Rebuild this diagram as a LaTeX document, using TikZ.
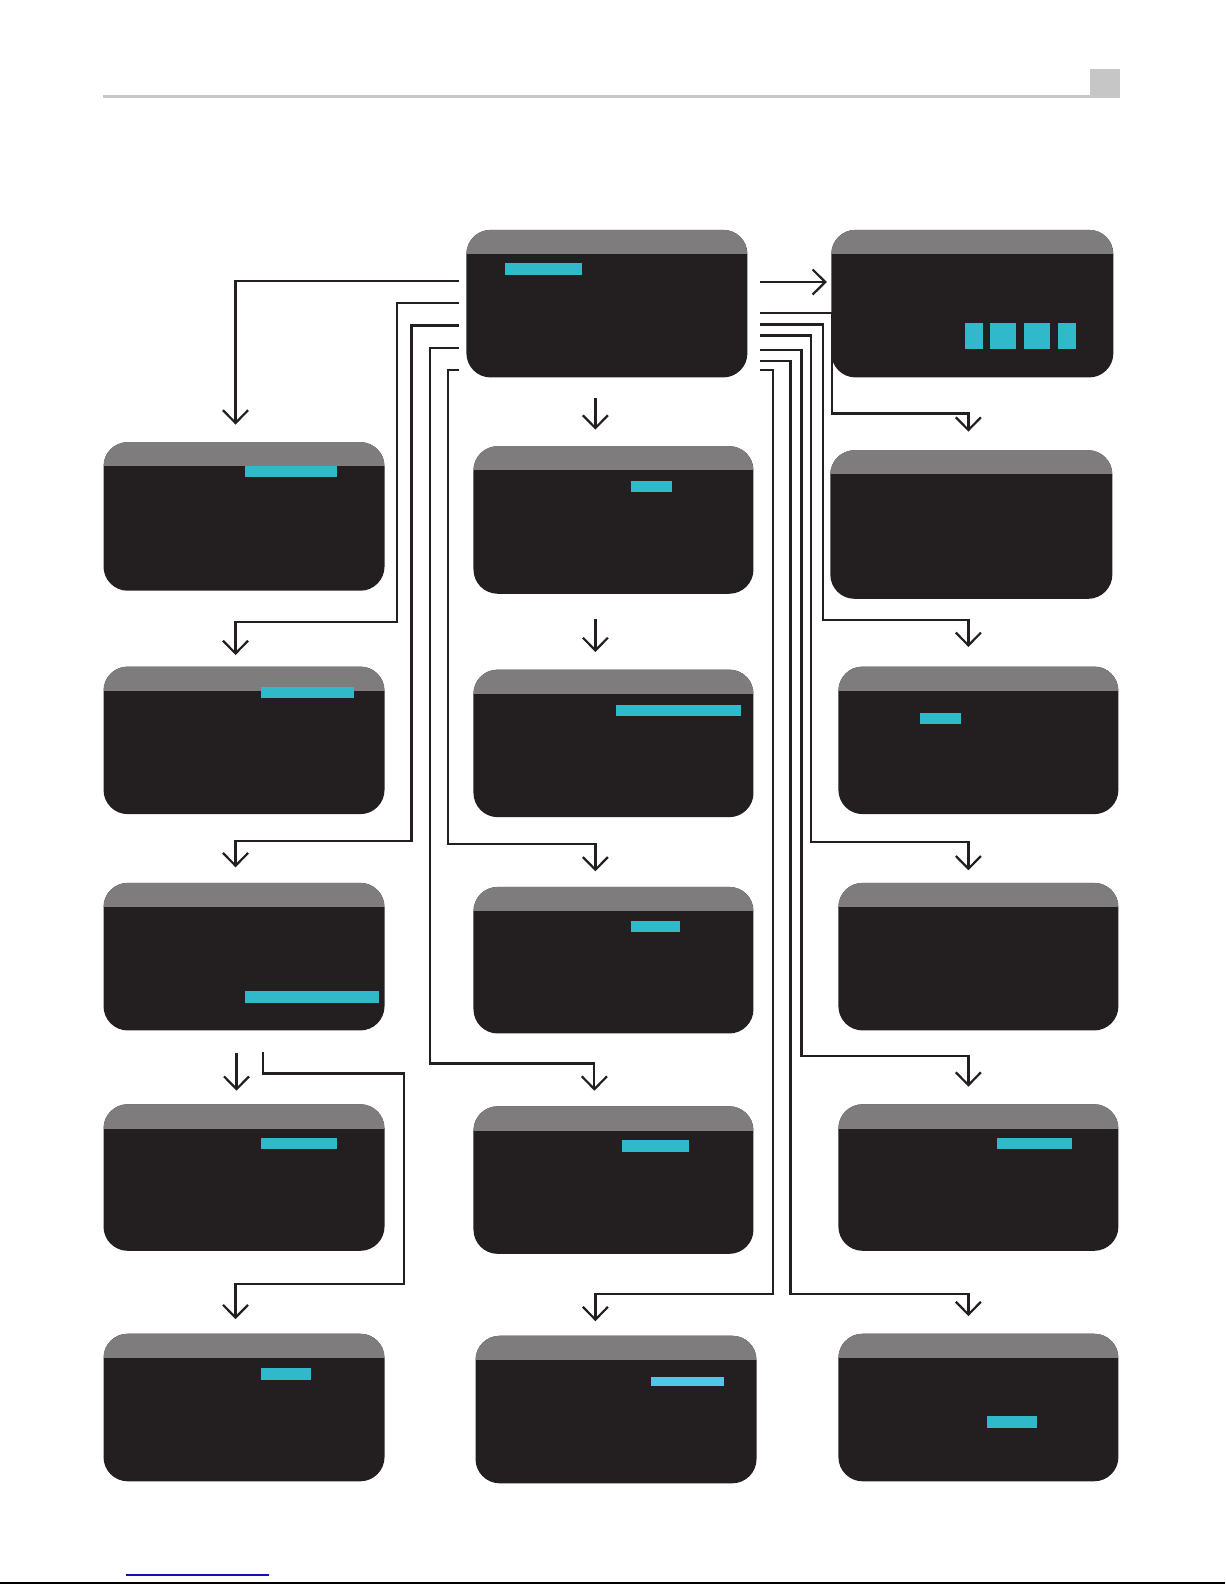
\documentclass[tikz,border=0pt]{standalone}
\usetikzlibrary{arrows.meta}
\definecolor{scrbody}{HTML}{231F20}
\definecolor{scrhead}{HTML}{7E7C7D}
\definecolor{cyanbar}{HTML}{30B9CB}
\definecolor{cyanlight}{HTML}{52C6E6}
\definecolor{rulegray}{HTML}{C6C6C6}
\definecolor{linecol}{HTML}{231F20}
\definecolor{linkblue}{HTML}{1010C0}
\tikzset{
  screen/.style={fill=scrbody, rounded corners=12pt, inner sep=0pt, anchor=north west,
    path picture={\fill[scrhead, sharp corners] (path picture bounding box.north west) rectangle ([yshift=-12pt]path picture bounding box.north east);}},
  conn/.style={line width=1.1pt, draw=linecol},
  arr/.style={conn, -{Straight Barb[length=6.3pt,width=12.4pt]}}
}
\newcommand\scr[5]{\node[screen, minimum width={(#4-#2)*0.5pt}, minimum height={(#5-#3)*0.5pt}] (#1) at (#2,#3) {};}
\begin{document}
\begin{tikzpicture}[x=0.5pt,y=-0.5pt]
\fill[white] (0,0) rectangle (1212,1568);
\useasboundingbox (0,0) rectangle (1212,1568);
% header rule
\fill[rulegray] (102,94) rectangle (1078,97);
\fill[rulegray] (1078,68) rectangle (1108,97);
% screens
\scr{C0}{461}{227}{739}{373}
\scr{R0}{822}{227}{1101}{373}
\scr{L1}{102}{437}{380}{584}
\scr{L2}{102}{659}{380}{805}
\scr{L3}{102}{873}{380}{1019}
\scr{L4}{102}{1092}{380}{1237}
\scr{L5}{102}{1319}{380}{1465}
\scr{M1}{468}{441}{745}{587}
\scr{M2}{468}{662}{745}{808}
\scr{M3}{468}{877}{745}{1022}
\scr{M4}{468}{1094}{745}{1240}
\scr{M5}{470}{1321}{748}{1467}
\scr{R1}{821}{445}{1100}{592}
\scr{R2}{829}{659}{1106}{805}
\scr{R3}{829}{873}{1106}{1019}
\scr{R4}{829}{1092}{1106}{1237}
\scr{R5}{829}{1319}{1106}{1465}
% highlight bars
\fill[cyanbar] (500,260) rectangle (576,272);
\fill[cyanbar] (955,320) rectangle (972,345);
\fill[cyanbar] (979,320) rectangle (1005,345);
\fill[cyanbar] (1013,320) rectangle (1039,345);
\fill[cyanbar] (1047,320) rectangle (1064,345);
\fill[cyanbar] (242,461) rectangle (333,472);
\fill[cyanbar] (258,680) rectangle (350,691);
\fill[cyanbar] (242,980) rectangle (375,992);
\fill[cyanbar] (258,1126) rectangle (333,1137);
\fill[cyanbar] (258,1353) rectangle (308,1365);
\fill[cyanbar] (624,476) rectangle (665,487);
\fill[cyanbar] (609,697) rectangle (733,708);
\fill[cyanbar] (624,911) rectangle (673,922);
\fill[cyanbar] (615,1128) rectangle (682,1140);
\fill[cyanlight] (644,1362) rectangle (716,1371);
\fill[cyanbar] (910,705) rectangle (951,716);
\fill[cyanbar] (986,1126) rectangle (1060,1137);
\fill[cyanbar] (976,1401) rectangle (1026,1413);
% connectors on the left of C0
\draw[arr] ([xshift=-3.5pt]C0.west |- 0,278) -| ([yshift=8.5pt]L1.north -| 233,0);
\draw[arr] ([xshift=-3.5pt]C0.west |- 0,300) -| (393,615) -| ([yshift=5.5pt]L2.north -| 233,0);
\draw[arr] ([xshift=-3.5pt]C0.west |- 0,322) -| (407,832) -| ([yshift=7.5pt]L3.north -| 233,0);
\draw[arr] ([xshift=-3.5pt]C0.west |- 0,344) -| (425,1052) -| ([yshift=7.5pt]M4.north -| 588,0);
\draw[arr] ([xshift=-3.5pt]C0.west |- 0,366) -| (443,835) -| ([yshift=7.5pt]M3.north -| 589,0);
% straight arrows in the middle column
\draw[arr] ([yshift=-10pt]C0.south -| 589,0) -- ([yshift=8pt]M1.north -| 589,0);
\draw[arr] ([yshift=-12.5pt]M1.south -| 589,0) -- ([yshift=8.5pt]M2.north -| 589,0);
% connectors on the right of C0
\draw[arr] ([xshift=6pt]C0.east |- 0,279) -- ([xshift=-2pt]R0.west |- 0,279);
\draw[arr] ([xshift=6pt]C0.east |- 0,310) -| (823,409) -| ([yshift=9pt]R1.north -| 958,0);
\draw[arr] ([xshift=6pt]C0.east |- 0,321) -| (814,613) -| ([yshift=9.5pt]R2.north -| 958,0);
\draw[arr] ([xshift=6pt]C0.east |- 0,332) -| (802,833) -| ([yshift=6pt]R3.north -| 958,0);
\draw[arr] ([xshift=6pt]C0.east |- 0,346) -| (793,1045) -| ([yshift=8.5pt]R4.north -| 958,0);
\draw[arr] ([xshift=6pt]C0.east |- 0,357) -| (782,1280) -| ([yshift=8.5pt]R5.north -| 958,0);
\draw[arr] ([xshift=6pt]C0.east |- 0,366) -| (765,1280) -| ([yshift=7pt]M5.north -| 589,0);
% from L3
\draw[arr] ([yshift=-11pt]L3.south -| 234,0) -- ([yshift=6.5pt]L4.north -| 234,0);
\draw[arr] ([yshift=-10.5pt]L3.south -| 260,0) |- (400,1062) |- (233,1270) -- ([yshift=7pt]L5.north -| 233,0);
% page foot
\draw[linkblue, line width=0.8pt] (125,1558) -- (266,1558);
\draw[black, line width=1pt] (0,1566) -- (1212,1566);
\end{tikzpicture}
\end{document}
